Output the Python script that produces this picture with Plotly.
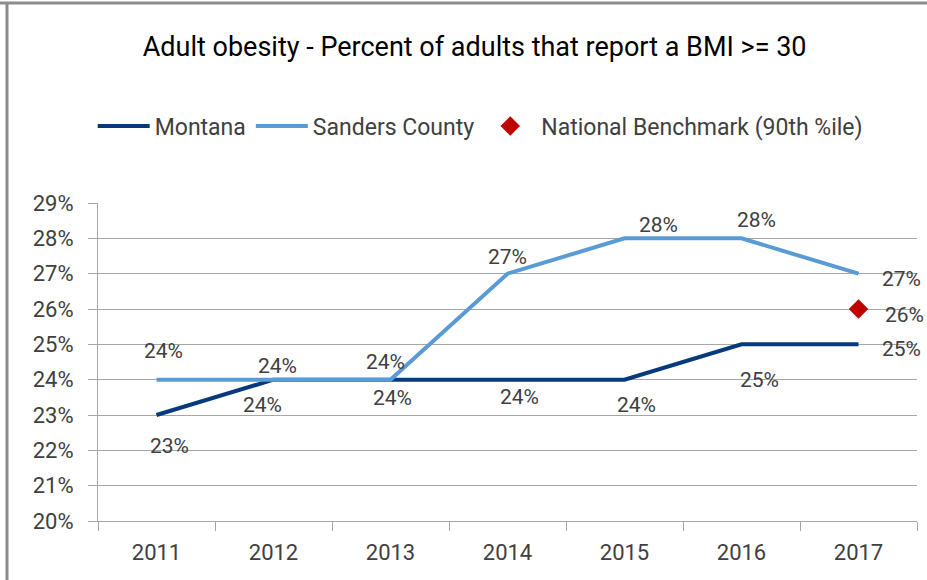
import plotly.graph_objects as go

years = ["2011", "2012", "2013", "2014", "2015", "2016", "2017"]
montana = [0.23, 0.24, 0.24, 0.24, 0.24, 0.25, 0.25]
sanders = [0.24, 0.24, 0.24, 0.27, 0.28, 0.28, 0.27]
bench_year = ["2017"]
bench_val = [0.26]
y_ticks = [0.20, 0.21, 0.22, 0.23, 0.24, 0.25, 0.26, 0.27, 0.28, 0.29]

# label offsets (pixels) : style only
mt_off = [(13, -31), (-11, -25), (2, -18), (12, -17), (12, -25), (18, -36), (43, -5)]
sc_off = [(7, 29), (4, 14), (-5, 18), (0, 17), (34, 13), (15, 18), (43, -5)]
bm_off = [(46, -6)]

FONT = "Roboto"
TXT = "#404040"
MT_COL = "#073A7D"
SC_COL = "#5B9BD5"
BM_COL = "#C00000"

fig = go.Figure()
fig.add_trace(go.Scatter(x=years, y=montana, mode="lines", name="Montana",
                         line=dict(color=MT_COL, width=4)))
fig.add_trace(go.Scatter(x=years, y=sanders, mode="lines", name="Sanders County",
                         line=dict(color=SC_COL, width=4)))
fig.add_trace(go.Scatter(x=bench_year, y=bench_val, mode="markers",
                         name="National Benchmark (90th %ile)",
                         marker=dict(symbol="diamond", color=BM_COL, size=15)))

annotations = []
def add_labels(xs, ys, offs):
    for x, y, (dx, dy) in zip(xs, ys, offs):
        annotations.append(dict(
            x=years.index(x), y=y, xref="x", yref="y",
            text=f"{round(y * 100)}%", showarrow=False,
            xshift=dx, yshift=dy,
            font=dict(family=FONT, size=21, color=TXT)))

add_labels(years, montana, mt_off)
add_labels(years, sanders, sc_off)
add_labels(bench_year, bench_val, bm_off)

fig.update_layout(
    width=927, height=580,
    margin=dict(l=98, r=10, t=203, b=59),
    paper_bgcolor="white", plot_bgcolor="white",
    title=dict(text="Adult obesity - Percent of adults that report a BMI >= 30",
               x=0.512, xanchor="center", xref="container",
               y=1 - 47 / 580, yanchor="middle", yref="container",
               font=dict(family=FONT, size=27, color="#000000")),
    legend=dict(orientation="h", x=0.518, xanchor="center", xref="container",
                y=1 - 126 / 580, yanchor="middle", yref="container",
                font=dict(family=FONT, size=23, color=TXT),
                itemwidth=52, traceorder="normal"),
    showlegend=True,
    font=dict(family=FONT, color=TXT),
    annotations=annotations,
)
fig.update_xaxes(type="category", range=[-0.5, 6.5], showgrid=False,
                 showline=True, linecolor="#A6A6A6", linewidth=1,
                 ticks="outside", tickson="boundaries", ticklen=9,
                 ticklabelstandoff=12,
                 tickcolor="#A6A6A6", tickfont=dict(family=FONT, size=22, color=TXT))
fig.update_yaxes(range=[0.20, 0.29], tickvals=y_ticks, tickformat=".0%",
                 showgrid=True, gridcolor="#A6A6A6", gridwidth=1,
                 showline=True, linecolor="#A6A6A6", linewidth=1,
                 ticks="outside", ticklen=9, tickcolor="#A6A6A6",
                 ticklabelstandoff=10,
                 tickfont=dict(family=FONT, size=22, color=TXT), zeroline=False)

# outer chart border (top and left edges visible)
fig.add_shape(type="line", xref="paper", yref="paper", x0=-98/819, x1=1.2,
              y0=1 + 200/318, y1=1 + 200/318, line=dict(color="#8C8C8C", width=3))
fig.add_shape(type="line", xref="paper", yref="paper", x0=-91/819, x1=-91/819,
              y0=-0.3, y1=1 + 200/318, line=dict(color="#8C8C8C", width=3))

fig.write_html("out.html", config={"displayModeBar": False},
               post_script="document.body.style.margin='0px';document.body.style.padding='0px';")
